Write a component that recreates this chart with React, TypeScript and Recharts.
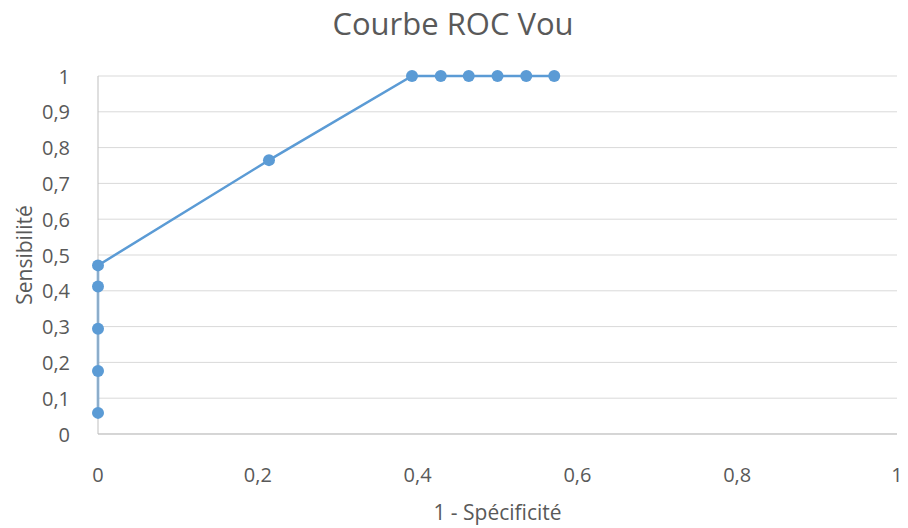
import { LineChart, Line, XAxis, YAxis, CartesianGrid, Label } from "recharts";

// ROC points: 1 - specificity vs sensitivity
const FPR = [0, 0, 0, 0, 0, 0.214, 0.393, 0.429, 0.464, 0.5, 0.536, 0.571];
const TPR = [0.059, 0.176, 0.294, 0.412, 0.471, 0.765, 1, 1, 1, 1, 1, 1];

const X_TICKS = [0, 0.2, 0.4, 0.6, 0.8, 1];
const Y_TICKS = [0, 0.1, 0.2, 0.3, 0.4, 0.5, 0.6, 0.7, 0.8, 0.9, 1];

const BLUE = "#5B9BD5";
const TEXT = "#595959";
const FONT = "'Open Sans', 'DejaVu Sans', sans-serif";

const data = FPR.map((x, i) => ({ x, y: TPR[i] }));

const fmt = (v: number) => String(v).replace(".", ",");

const XTick = ({ x, y, payload }: any) => (
  <text x={x} y={y + 32} textAnchor="middle" dominantBaseline="central" fill={TEXT} fontSize={20} fontFamily={FONT}>
    {fmt(payload.value)}
  </text>
);

const YTick = ({ x, y, payload }: any) => (
  <text x={x - 20} y={y} textAnchor="end" dominantBaseline="central" fill={TEXT} fontSize={20} fontFamily={FONT}>
    {fmt(payload.value)}
  </text>
);

export default function App() {
  return (
    <div style={{ position: "absolute", left: 0, top: 0, width: 908, height: 528, background: "#fff" }}>
      <svg width={908} height={44} style={{ position: "absolute", left: 0, top: 0 }}>
        <text x={453} y={23} textAnchor="middle" dominantBaseline="central" fill={TEXT} fontSize={31} fontFamily={FONT}>
          Courbe ROC Vou
        </text>
      </svg>
      <LineChart width={908} height={528} data={data} margin={{ top: 76, right: 11, left: 0, bottom: 0 }}>
        <CartesianGrid vertical={false} stroke="#d9d9d9" strokeWidth={1} />
        <XAxis
          type="number"
          dataKey="x"
          domain={[0, 1]}
          ticks={X_TICKS}
          tick={<XTick />}
          tickLine={false}
          axisLine={{ stroke: "#bfbfbf" }}
          height={94}
        >
          <Label value="1 - Spécificité" position="insideBottom" offset={8} fill={TEXT} fontSize={21} fontFamily={FONT} />
        </XAxis>
        <YAxis
          type="number"
          domain={[0, 1]}
          ticks={Y_TICKS}
          tick={<YTick />}
          tickLine={false}
          axisLine={{ stroke: "#bfbfbf" }}
          width={98}
        >
          <Label value="Sensibilité" angle={-90} position="insideLeft" offset={25} fill={TEXT} fontSize={21} fontFamily={FONT} style={{ textAnchor: "middle" }} />
        </YAxis>
        <Line
          dataKey="y"
          stroke={BLUE}
          strokeWidth={2.5}
          dot={{ r: 6, fill: BLUE, stroke: BLUE, strokeWidth: 0 }}
          activeDot={false}
          isAnimationActive={false}
        />
      </LineChart>
    </div>
  );
}
